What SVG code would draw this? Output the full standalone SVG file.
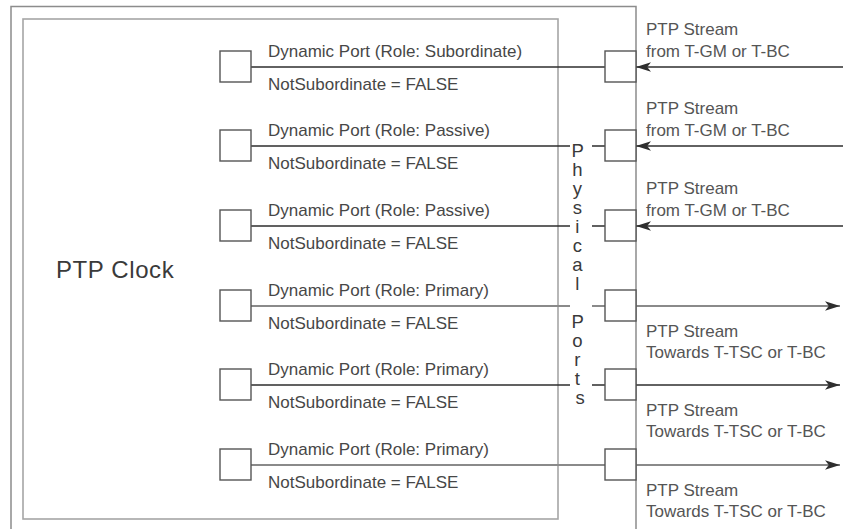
<svg xmlns="http://www.w3.org/2000/svg" width="843" height="529" viewBox="0 0 843 529">
<defs>
<style>
text{font-family:"Liberation Sans",Arial,sans-serif;fill:#444}
.lbl{font-size:17px;fill:#474747}
.rl{font-size:17px;fill:#555}
.vt{font-size:18.5px;fill:#3a3a3a}
.frame{fill:none;stroke:#8c8c8c;stroke-width:1.5}
.clk{fill:none;stroke:#a6a6a6;stroke-width:1.6}
.box{fill:#fff;stroke:#555;stroke-width:1.4}
.dk{fill:none;stroke:#2e2e2e;stroke-width:1.6}
.lt{fill:none;stroke:#8a8a8a;stroke-width:1.8}
</style>
<marker id="ad" markerUnits="userSpaceOnUse" markerWidth="17" markerHeight="12" refX="15" refY="6" orient="auto">
<path d="M0,1.3 L15,6 L0,10.7 L3.8,6 Z" fill="#2e2e2e"/>
</marker>
</defs>
<rect width="843" height="529" fill="#fff"/>

<g id="outer-frame">
<path class="frame" d="M11,529 V6.5 H636 V529"/>
</g>

<g id="ptp-clock">
<rect class="clk" x="23" y="19" width="535" height="500"/>
<text x="56" y="278" font-size="24" letter-spacing="0.6" style="fill:#3a3a3a">PTP Clock</text>
</g>

<g id="connectors">
<path class="dk" d="M251,67 H605"/>
<path class="dk" d="M251,146 H570 M592,146 H605"/>
<path class="dk" d="M251,226 H570 M592,226 H605"/>
<path class="lt" d="M251,306 H570 M592,306 H605"/>
<path class="dk" d="M251,385 H570 M592,385 H605"/>
<path class="lt" d="M251,465 H605"/>
<path class="dk" d="M843,67 H636" marker-end="url(#ad)"/>
<path class="dk" d="M843,146 H636" marker-end="url(#ad)"/>
<path class="dk" d="M843,226 H636" marker-end="url(#ad)"/>
<path class="lt" d="M636,306 H840" marker-end="url(#ad)"/>
<path class="dk" d="M636,385 H840" marker-end="url(#ad)"/>
<path class="lt" d="M636,465 H840" marker-end="url(#ad)"/>
</g>

<g id="port-1">
<rect class="box" x="220" y="51" width="31" height="31"/>
<text class="lbl" x="268" y="57">Dynamic Port (Role: Subordinate)</text>
<text class="lbl" x="268" y="90">NotSubordinate = FALSE</text>
</g>
<g id="port-2">
<rect class="box" x="220" y="130" width="31" height="31"/>
<text class="lbl" x="268" y="136">Dynamic Port (Role: Passive)</text>
<text class="lbl" x="268" y="169">NotSubordinate = FALSE</text>
</g>
<g id="port-3">
<rect class="box" x="220" y="210" width="31" height="31"/>
<text class="lbl" x="268" y="216">Dynamic Port (Role: Passive)</text>
<text class="lbl" x="268" y="249">NotSubordinate = FALSE</text>
</g>
<g id="port-4">
<rect class="box" x="220" y="290" width="31" height="31"/>
<text class="lbl" x="268" y="296">Dynamic Port (Role: Primary)</text>
<text class="lbl" x="268" y="329">NotSubordinate = FALSE</text>
</g>
<g id="port-5">
<rect class="box" x="220" y="369" width="31" height="31"/>
<text class="lbl" x="268" y="375">Dynamic Port (Role: Primary)</text>
<text class="lbl" x="268" y="408">NotSubordinate = FALSE</text>
</g>
<g id="port-6">
<rect class="box" x="220" y="449" width="31" height="31"/>
<text class="lbl" x="268" y="455">Dynamic Port (Role: Primary)</text>
<text class="lbl" x="268" y="488">NotSubordinate = FALSE</text>
</g>

<g id="physical-port-1">
<rect class="box" x="605" y="51" width="31" height="31"/>
<text class="rl" x="646" y="35">PTP Stream</text>
<text class="rl" x="646" y="57">from T-GM or T-BC</text>
</g>
<g id="physical-port-2">
<rect class="box" x="605" y="130" width="31" height="31"/>
<text class="rl" x="646" y="114">PTP Stream</text>
<text class="rl" x="646" y="136">from T-GM or T-BC</text>
</g>
<g id="physical-port-3">
<rect class="box" x="605" y="210" width="31" height="31"/>
<text class="rl" x="646" y="194">PTP Stream</text>
<text class="rl" x="646" y="216">from T-GM or T-BC</text>
</g>
<g id="physical-port-4">
<rect class="box" x="605" y="290" width="31" height="31"/>
<text class="rl" x="646" y="337">PTP Stream</text>
<text class="rl" x="646" y="358">Towards T-TSC or T-BC</text>
</g>
<g id="physical-port-5">
<rect class="box" x="605" y="369" width="31" height="31"/>
<text class="rl" x="646" y="416">PTP Stream</text>
<text class="rl" x="646" y="437">Towards T-TSC or T-BC</text>
</g>
<g id="physical-port-6">
<rect class="box" x="605" y="449" width="31" height="31"/>
<text class="rl" x="646" y="496">PTP Stream</text>
<text class="rl" x="646" y="517">Towards T-TSC or T-BC</text>
</g>

<g id="physical-ports-label">
<text class="vt" text-anchor="middle">
<tspan x="580" y="157">P</tspan>
<tspan x="580" y="176">h</tspan>
<tspan x="580" y="195">y</tspan>
<tspan x="580" y="214">s</tspan>
<tspan x="580" y="233">i</tspan>
<tspan x="580" y="252">c</tspan>
<tspan x="580" y="271">a</tspan>
<tspan x="580" y="290">l</tspan>
<tspan x="580" y="328">P</tspan>
<tspan x="580" y="347">o</tspan>
<tspan x="580" y="366">r</tspan>
<tspan x="580" y="385">t</tspan>
<tspan x="580" y="404">s</tspan>
</text>
</g>
</svg>
